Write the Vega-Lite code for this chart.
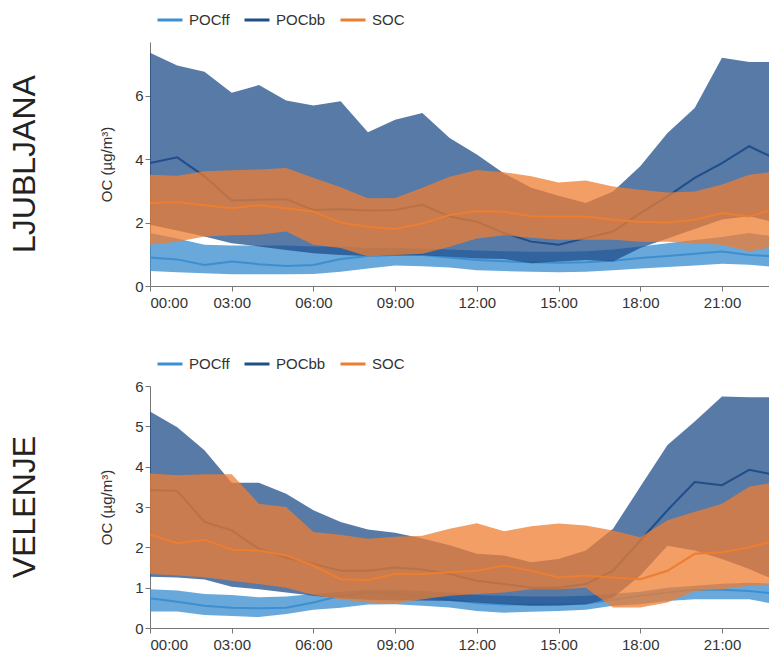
{
  "$schema": "https://vega.github.io/schema/vega-lite/v6.json",
  "padding": {"left": 8, "top": 0, "right": 0, "bottom": 0},
  "background": "white",
  "config": {
    "view": {"stroke": null},
    "font": "Liberation Sans",
    "axis": {"grid": false, "labelFontSize": 15, "labelColor": "#333", "domainColor": "#777", "tickColor": "#777", "titleFontSize": 15, "titleFontWeight": "normal", "titleColor": "#333", "tickSize": 5},
    "legend": {"orient": "top", "direction": "horizontal", "title": null, "symbolType": "stroke", "symbolStrokeWidth": 3, "symbolSize": 625, "labelFontSize": 15, "labelColor": "#333", "offset": 8, "padding": 6, "columnPadding": 8, "labelOffset": 5, "symbolOpacity": 1}
  },
  "datasets": {
    "d": [
      {"c":"L","s":"POCff","h":0,"lo":0.47,"m":0.90,"hi":1.67},
      {"c":"L","s":"POCff","h":1,"lo":0.43,"m":0.84,"hi":1.50},
      {"c":"L","s":"POCff","h":2,"lo":0.40,"m":0.66,"hi":1.30},
      {"c":"L","s":"POCff","h":3,"lo":0.37,"m":0.77,"hi":1.28},
      {"c":"L","s":"POCff","h":4,"lo":0.37,"m":0.69,"hi":1.28},
      {"c":"L","s":"POCff","h":5,"lo":0.37,"m":0.63,"hi":1.28},
      {"c":"L","s":"POCff","h":6,"lo":0.38,"m":0.66,"hi":1.25},
      {"c":"L","s":"POCff","h":7,"lo":0.45,"m":0.85,"hi":1.25},
      {"c":"L","s":"POCff","h":8,"lo":0.55,"m":0.95,"hi":1.20},
      {"c":"L","s":"POCff","h":9,"lo":0.65,"m":0.98,"hi":1.20},
      {"c":"L","s":"POCff","h":10,"lo":0.62,"m":0.98,"hi":1.18},
      {"c":"L","s":"POCff","h":11,"lo":0.58,"m":0.90,"hi":1.15},
      {"c":"L","s":"POCff","h":12,"lo":0.50,"m":0.82,"hi":1.12},
      {"c":"L","s":"POCff","h":13,"lo":0.47,"m":0.78,"hi":1.10},
      {"c":"L","s":"POCff","h":14,"lo":0.45,"m":0.75,"hi":1.08},
      {"c":"L","s":"POCff","h":15,"lo":0.43,"m":0.73,"hi":1.08},
      {"c":"L","s":"POCff","h":16,"lo":0.45,"m":0.75,"hi":1.10},
      {"c":"L","s":"POCff","h":17,"lo":0.50,"m":0.80,"hi":1.15},
      {"c":"L","s":"POCff","h":18,"lo":0.55,"m":0.88,"hi":1.25},
      {"c":"L","s":"POCff","h":19,"lo":0.60,"m":0.95,"hi":1.35},
      {"c":"L","s":"POCff","h":20,"lo":0.65,"m":1.02,"hi":1.45},
      {"c":"L","s":"POCff","h":21,"lo":0.70,"m":1.09,"hi":1.55},
      {"c":"L","s":"POCff","h":22,"lo":0.67,"m":0.98,"hi":1.67},
      {"c":"L","s":"POCff","h":23,"lo":0.60,"m":0.93,"hi":1.55},
      {"c":"L","s":"POCbb","h":0,"lo":1.93,"m":3.88,"hi":7.36},
      {"c":"L","s":"POCbb","h":1,"lo":1.75,"m":4.06,"hi":6.96},
      {"c":"L","s":"POCbb","h":2,"lo":1.56,"m":3.46,"hi":6.76},
      {"c":"L","s":"POCbb","h":3,"lo":1.35,"m":2.70,"hi":6.10},
      {"c":"L","s":"POCbb","h":4,"lo":1.25,"m":2.72,"hi":6.34},
      {"c":"L","s":"POCbb","h":5,"lo":1.14,"m":2.74,"hi":5.85},
      {"c":"L","s":"POCbb","h":6,"lo":1.03,"m":2.40,"hi":5.70},
      {"c":"L","s":"POCbb","h":7,"lo":0.98,"m":2.42,"hi":5.83},
      {"c":"L","s":"POCbb","h":8,"lo":0.95,"m":2.38,"hi":4.85},
      {"c":"L","s":"POCbb","h":9,"lo":0.97,"m":2.40,"hi":5.25},
      {"c":"L","s":"POCbb","h":10,"lo":0.97,"m":2.56,"hi":5.46},
      {"c":"L","s":"POCbb","h":11,"lo":0.92,"m":2.19,"hi":4.67},
      {"c":"L","s":"POCbb","h":12,"lo":0.87,"m":2.03,"hi":4.15},
      {"c":"L","s":"POCbb","h":13,"lo":0.85,"m":1.67,"hi":3.55},
      {"c":"L","s":"POCbb","h":14,"lo":0.72,"m":1.40,"hi":3.10},
      {"c":"L","s":"POCbb","h":15,"lo":0.77,"m":1.30,"hi":2.85},
      {"c":"L","s":"POCbb","h":16,"lo":0.82,"m":1.51,"hi":2.62},
      {"c":"L","s":"POCbb","h":17,"lo":0.77,"m":1.72,"hi":2.98},
      {"c":"L","s":"POCbb","h":18,"lo":1.20,"m":2.30,"hi":3.78},
      {"c":"L","s":"POCbb","h":19,"lo":1.50,"m":2.83,"hi":4.83},
      {"c":"L","s":"POCbb","h":20,"lo":1.80,"m":3.41,"hi":5.62},
      {"c":"L","s":"POCbb","h":21,"lo":2.10,"m":3.88,"hi":7.20},
      {"c":"L","s":"POCbb","h":22,"lo":2.20,"m":4.41,"hi":7.07},
      {"c":"L","s":"POCbb","h":23,"lo":2.00,"m":4.00,"hi":7.07},
      {"c":"L","s":"SOC","h":0,"lo":1.30,"m":2.62,"hi":3.51},
      {"c":"L","s":"SOC","h":1,"lo":1.40,"m":2.65,"hi":3.48},
      {"c":"L","s":"SOC","h":2,"lo":1.56,"m":2.55,"hi":3.62},
      {"c":"L","s":"SOC","h":3,"lo":1.60,"m":2.45,"hi":3.65},
      {"c":"L","s":"SOC","h":4,"lo":1.62,"m":2.55,"hi":3.68},
      {"c":"L","s":"SOC","h":5,"lo":1.72,"m":2.45,"hi":3.72},
      {"c":"L","s":"SOC","h":6,"lo":1.30,"m":2.35,"hi":3.42},
      {"c":"L","s":"SOC","h":7,"lo":1.20,"m":2.00,"hi":3.12},
      {"c":"L","s":"SOC","h":8,"lo":0.93,"m":1.87,"hi":2.77},
      {"c":"L","s":"SOC","h":9,"lo":0.98,"m":1.80,"hi":2.78},
      {"c":"L","s":"SOC","h":10,"lo":1.02,"m":1.97,"hi":3.10},
      {"c":"L","s":"SOC","h":11,"lo":1.24,"m":2.24,"hi":3.45},
      {"c":"L","s":"SOC","h":12,"lo":1.50,"m":2.37,"hi":3.66},
      {"c":"L","s":"SOC","h":13,"lo":1.60,"m":2.34,"hi":3.59},
      {"c":"L","s":"SOC","h":14,"lo":1.52,"m":2.20,"hi":3.46},
      {"c":"L","s":"SOC","h":15,"lo":1.46,"m":2.19,"hi":3.27},
      {"c":"L","s":"SOC","h":16,"lo":1.46,"m":2.19,"hi":3.33},
      {"c":"L","s":"SOC","h":17,"lo":1.46,"m":2.09,"hi":3.14},
      {"c":"L","s":"SOC","h":18,"lo":1.40,"m":2.03,"hi":3.04},
      {"c":"L","s":"SOC","h":19,"lo":1.40,"m":2.00,"hi":2.95},
      {"c":"L","s":"SOC","h":20,"lo":1.35,"m":2.09,"hi":2.98},
      {"c":"L","s":"SOC","h":21,"lo":1.30,"m":2.30,"hi":3.20},
      {"c":"L","s":"SOC","h":22,"lo":1.09,"m":2.19,"hi":3.51},
      {"c":"L","s":"SOC","h":23,"lo":1.25,"m":2.46,"hi":3.62},
      {"c":"V","s":"POCff","h":0,"lo":0.41,"m":0.74,"hi":0.96},
      {"c":"V","s":"POCff","h":1,"lo":0.41,"m":0.65,"hi":0.93},
      {"c":"V","s":"POCff","h":2,"lo":0.32,"m":0.55,"hi":0.84},
      {"c":"V","s":"POCff","h":3,"lo":0.30,"m":0.50,"hi":0.82},
      {"c":"V","s":"POCff","h":4,"lo":0.27,"m":0.49,"hi":0.76},
      {"c":"V","s":"POCff","h":5,"lo":0.35,"m":0.50,"hi":0.78},
      {"c":"V","s":"POCff","h":6,"lo":0.45,"m":0.63,"hi":0.84},
      {"c":"V","s":"POCff","h":7,"lo":0.50,"m":0.80,"hi":0.90},
      {"c":"V","s":"POCff","h":8,"lo":0.58,"m":0.88,"hi":0.95},
      {"c":"V","s":"POCff","h":9,"lo":0.59,"m":0.85,"hi":0.95},
      {"c":"V","s":"POCff","h":10,"lo":0.55,"m":0.78,"hi":0.92},
      {"c":"V","s":"POCff","h":11,"lo":0.51,"m":0.70,"hi":0.88},
      {"c":"V","s":"POCff","h":12,"lo":0.42,"m":0.62,"hi":0.82},
      {"c":"V","s":"POCff","h":13,"lo":0.38,"m":0.58,"hi":0.80},
      {"c":"V","s":"POCff","h":14,"lo":0.40,"m":0.58,"hi":0.78},
      {"c":"V","s":"POCff","h":15,"lo":0.42,"m":0.58,"hi":0.78},
      {"c":"V","s":"POCff","h":16,"lo":0.45,"m":0.60,"hi":0.80},
      {"c":"V","s":"POCff","h":17,"lo":0.55,"m":0.70,"hi":0.85},
      {"c":"V","s":"POCff","h":18,"lo":0.59,"m":0.80,"hi":0.90},
      {"c":"V","s":"POCff","h":19,"lo":0.67,"m":0.88,"hi":1.00},
      {"c":"V","s":"POCff","h":20,"lo":0.71,"m":0.95,"hi":1.05},
      {"c":"V","s":"POCff","h":21,"lo":0.71,"m":0.95,"hi":1.10},
      {"c":"V","s":"POCff","h":22,"lo":0.71,"m":0.92,"hi":1.12},
      {"c":"V","s":"POCff","h":23,"lo":0.59,"m":0.85,"hi":1.10},
      {"c":"V","s":"POCbb","h":0,"lo":1.27,"m":3.42,"hi":5.37},
      {"c":"V","s":"POCbb","h":1,"lo":1.25,"m":3.40,"hi":4.98},
      {"c":"V","s":"POCbb","h":2,"lo":1.20,"m":2.63,"hi":4.41},
      {"c":"V","s":"POCbb","h":3,"lo":1.02,"m":2.42,"hi":3.60},
      {"c":"V","s":"POCbb","h":4,"lo":0.96,"m":1.96,"hi":3.60},
      {"c":"V","s":"POCbb","h":5,"lo":0.88,"m":1.75,"hi":3.33},
      {"c":"V","s":"POCbb","h":6,"lo":0.80,"m":1.59,"hi":2.92},
      {"c":"V","s":"POCbb","h":7,"lo":0.74,"m":1.42,"hi":2.63},
      {"c":"V","s":"POCbb","h":8,"lo":0.70,"m":1.42,"hi":2.44},
      {"c":"V","s":"POCbb","h":9,"lo":0.68,"m":1.50,"hi":2.36},
      {"c":"V","s":"POCbb","h":10,"lo":0.68,"m":1.45,"hi":2.22},
      {"c":"V","s":"POCbb","h":11,"lo":0.67,"m":1.34,"hi":2.05},
      {"c":"V","s":"POCbb","h":12,"lo":0.63,"m":1.17,"hi":1.84},
      {"c":"V","s":"POCbb","h":13,"lo":0.59,"m":1.09,"hi":1.80},
      {"c":"V","s":"POCbb","h":14,"lo":0.55,"m":1.00,"hi":1.63},
      {"c":"V","s":"POCbb","h":15,"lo":0.56,"m":1.00,"hi":1.71},
      {"c":"V","s":"POCbb","h":16,"lo":0.59,"m":1.09,"hi":1.92},
      {"c":"V","s":"POCbb","h":17,"lo":0.75,"m":1.42,"hi":2.46},
      {"c":"V","s":"POCbb","h":18,"lo":1.30,"m":2.17,"hi":3.50},
      {"c":"V","s":"POCbb","h":19,"lo":2.04,"m":2.92,"hi":4.54},
      {"c":"V","s":"POCbb","h":20,"lo":1.92,"m":3.62,"hi":5.12},
      {"c":"V","s":"POCbb","h":21,"lo":1.71,"m":3.54,"hi":5.74},
      {"c":"V","s":"POCbb","h":22,"lo":1.46,"m":3.92,"hi":5.72},
      {"c":"V","s":"POCbb","h":23,"lo":1.17,"m":3.79,"hi":5.72},
      {"c":"V","s":"SOC","h":0,"lo":1.34,"m":2.32,"hi":3.83},
      {"c":"V","s":"SOC","h":1,"lo":1.30,"m":2.10,"hi":3.79},
      {"c":"V","s":"SOC","h":2,"lo":1.26,"m":2.19,"hi":3.81},
      {"c":"V","s":"SOC","h":3,"lo":1.17,"m":1.94,"hi":3.81},
      {"c":"V","s":"SOC","h":4,"lo":1.09,"m":1.92,"hi":3.08},
      {"c":"V","s":"SOC","h":5,"lo":1.00,"m":1.80,"hi":3.00},
      {"c":"V","s":"SOC","h":6,"lo":0.82,"m":1.55,"hi":2.38},
      {"c":"V","s":"SOC","h":7,"lo":0.71,"m":1.21,"hi":2.31},
      {"c":"V","s":"SOC","h":8,"lo":0.63,"m":1.19,"hi":2.21},
      {"c":"V","s":"SOC","h":9,"lo":0.60,"m":1.34,"hi":2.26},
      {"c":"V","s":"SOC","h":10,"lo":0.71,"m":1.34,"hi":2.29},
      {"c":"V","s":"SOC","h":11,"lo":0.80,"m":1.38,"hi":2.46},
      {"c":"V","s":"SOC","h":12,"lo":0.84,"m":1.42,"hi":2.60},
      {"c":"V","s":"SOC","h":13,"lo":0.88,"m":1.55,"hi":2.40},
      {"c":"V","s":"SOC","h":14,"lo":0.96,"m":1.42,"hi":2.52},
      {"c":"V","s":"SOC","h":15,"lo":0.96,"m":1.25,"hi":2.59},
      {"c":"V","s":"SOC","h":16,"lo":1.00,"m":1.30,"hi":2.54},
      {"c":"V","s":"SOC","h":17,"lo":0.51,"m":1.25,"hi":2.42},
      {"c":"V","s":"SOC","h":18,"lo":0.51,"m":1.21,"hi":2.25},
      {"c":"V","s":"SOC","h":19,"lo":0.63,"m":1.42,"hi":2.67},
      {"c":"V","s":"SOC","h":20,"lo":0.92,"m":1.84,"hi":2.88},
      {"c":"V","s":"SOC","h":21,"lo":0.96,"m":1.88,"hi":3.08},
      {"c":"V","s":"SOC","h":22,"lo":1.05,"m":2.00,"hi":3.50},
      {"c":"V","s":"SOC","h":23,"lo":1.09,"m":2.17,"hi":3.62}
    ]
  },
  "spacing": 34,
  "resolve": {"legend": {"color": "independent"}},
  "vconcat": [
    {
      "title": {"text": "LJUBLJANA", "orient": "left", "fontSize": 32, "fontWeight": "normal", "color": "#222", "offset": 58, "font": "Liberation Sans"},
      "width": 621,
      "height": 244,
      "data": {"name": "d"},
      "transform": [{"filter": "datum.c === 'L'"}],
      "encoding": {
        "x": {"field": "h", "type": "quantitative", "scale": {"domain": [0, 22.8], "nice": false}, "axis": {"title": null, "values": [0,3,6,9,12,15,18,21], "labelExpr": "(datum.value < 10 ? '0' : '') + datum.value + ':00'", "labelPadding": 4}},
        "color": {"field": "s", "type": "nominal", "scale": {"domain": ["POCff", "POCbb", "SOC"], "range": ["#3d8fd1", "#1f4e89", "#ed7d31"]}}
      },
      "layer": [
        {"transform": [{"filter": "datum.s === 'POCff'"}], "mark": {"type": "area", "opacity": 0.78, "clip": true}, "encoding": {"y": {"field": "lo", "type": "quantitative", "scale": {"domain": [0, 7.7], "nice": false}, "axis": {"values": [0,2,4,6], "titlePadding": 20}, "title": "OC (µg/m³)"}, "y2": {"field": "hi"}}},
        {"transform": [{"filter": "datum.s === 'POCff'"}], "mark": {"type": "line", "strokeWidth": 2, "clip": true}, "encoding": {"y": {"field": "m", "type": "quantitative", "title": "OC (µg/m³)"}}},
        {"transform": [{"filter": "datum.s === 'POCbb'"}], "mark": {"type": "area", "opacity": 0.75, "clip": true}, "encoding": {"y": {"field": "lo", "type": "quantitative", "title": "OC (µg/m³)"}, "y2": {"field": "hi"}}},
        {"transform": [{"filter": "datum.s === 'POCbb'"}], "mark": {"type": "line", "strokeWidth": 2, "clip": true}, "encoding": {"y": {"field": "m", "type": "quantitative", "title": "OC (µg/m³)"}}},
        {"transform": [{"filter": "datum.s === 'SOC'"}], "mark": {"type": "area", "opacity": 0.75, "clip": true}, "encoding": {"y": {"field": "lo", "type": "quantitative", "title": "OC (µg/m³)"}, "y2": {"field": "hi"}}},
        {"transform": [{"filter": "datum.s === 'SOC'"}], "mark": {"type": "line", "strokeWidth": 2, "clip": true}, "encoding": {"y": {"field": "m", "type": "quantitative", "title": "OC (µg/m³)"}}}
      ]
    },
    {
      "title": {"text": "VELENJE", "orient": "left", "fontSize": 32, "fontWeight": "normal", "color": "#222", "offset": 58, "font": "Liberation Sans"},
      "width": 621,
      "height": 242,
      "data": {"name": "d"},
      "transform": [{"filter": "datum.c === 'V'"}],
      "encoding": {
        "x": {"field": "h", "type": "quantitative", "scale": {"domain": [0, 22.8], "nice": false}, "axis": {"title": null, "values": [0,3,6,9,12,15,18,21], "labelExpr": "(datum.value < 10 ? '0' : '') + datum.value + ':00'", "labelPadding": 4}},
        "color": {"field": "s", "type": "nominal", "scale": {"domain": ["POCff", "POCbb", "SOC"], "range": ["#3d8fd1", "#1f4e89", "#ed7d31"]}}
      },
      "layer": [
        {"transform": [{"filter": "datum.s === 'POCff'"}], "mark": {"type": "area", "opacity": 0.78, "clip": true}, "encoding": {"y": {"field": "lo", "type": "quantitative", "scale": {"domain": [0, 6], "nice": false}, "axis": {"values": [0,1,2,3,4,5,6], "titlePadding": 20}, "title": "OC (µg/m³)"}, "y2": {"field": "hi"}}},
        {"transform": [{"filter": "datum.s === 'POCff'"}], "mark": {"type": "line", "strokeWidth": 2, "clip": true}, "encoding": {"y": {"field": "m", "type": "quantitative", "title": "OC (µg/m³)"}}},
        {"transform": [{"filter": "datum.s === 'POCbb'"}], "mark": {"type": "area", "opacity": 0.75, "clip": true}, "encoding": {"y": {"field": "lo", "type": "quantitative", "title": "OC (µg/m³)"}, "y2": {"field": "hi"}}},
        {"transform": [{"filter": "datum.s === 'POCbb'"}], "mark": {"type": "line", "strokeWidth": 2, "clip": true}, "encoding": {"y": {"field": "m", "type": "quantitative", "title": "OC (µg/m³)"}}},
        {"transform": [{"filter": "datum.s === 'SOC'"}], "mark": {"type": "area", "opacity": 0.75, "clip": true}, "encoding": {"y": {"field": "lo", "type": "quantitative", "title": "OC (µg/m³)"}, "y2": {"field": "hi"}}},
        {"transform": [{"filter": "datum.s === 'SOC'"}], "mark": {"type": "line", "strokeWidth": 2, "clip": true}, "encoding": {"y": {"field": "m", "type": "quantitative", "title": "OC (µg/m³)"}}}
      ]
    }
  ]
}
